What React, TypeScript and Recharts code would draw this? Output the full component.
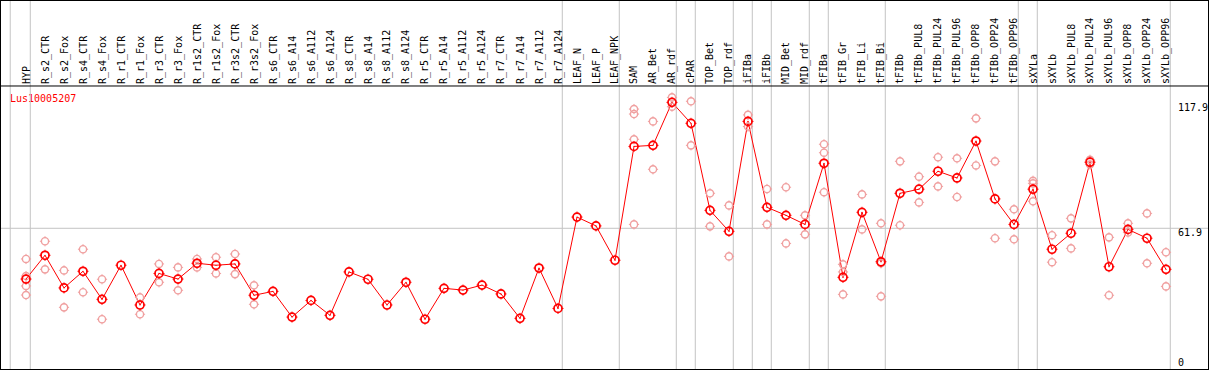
import React from "react";
import { ComposedChart, Line, XAxis, YAxis, ReferenceLine } from "recharts";

const CATEGORIES = [
  "HYP", "R_s2_CTR", "R_s2_Fox", "R_s4_CTR", "R_s4_Fox", "R_r1_CTR", "R_r1_Fox", "R_r3_CTR", "R_r3_Fox",
  "R_r1s2_CTR", "R_r1s2_Fox", "R_r3s2_CTR", "R_r3s2_Fox", "R_s6_CTR", "R_s6_A14", "R_s6_A112", "R_s6_A124",
  "R_s8_CTR", "R_s8_A14", "R_s8_A112", "R_s8_A124", "R_r5_CTR", "R_r5_A14", "R_r5_A112", "R_r5_A124",
  "R_r7_CTR", "R_r7_A14", "R_r7_A112", "R_r7_A124", "LEAF_N", "LEAF_P", "LEAF_NPK", "SAM", "AR_Bet", "AR_rdf",
  "cPAR", "TOP_Bet", "TOP_rdf", "iFIBa", "iFIBb", "MID_Bet", "MID_rdf", "tFIBa", "tFIB_Gr", "tFIB_Li", "tFIB_Bi",
  "tFIBb", "tFIBb_PUL8", "tFIBb_PUL24", "tFIBb_PUL96", "tFIBb_OPP8", "tFIBb_OPP24", "tFIBb_OPP96",
  "sXYLa", "sXYLb", "sXYLb_PUL8", "sXYLb_PUL24", "sXYLb_PUL96", "sXYLb_OPP8", "sXYLb_OPP24", "sXYLb_OPP96",
];

const MEANS = [
  38.4, 49.4, 34.3, 42.0, 29.0, 44.8, 26.4, 41.0, 38.4,
  45.7, 44.8, 45.4, 30.9, 32.7, 20.8, 28.5, 21.6,
  41.7, 38.3, 26.4, 36.9, 19.8, 34.1, 33.3, 35.6,
  31.5, 20.2, 43.5, 24.8, 67.1, 63.0, 47.1, 99.8, 100.3, 120.2,
  110.5, 70.2, 60.5, 111.4, 71.6, 67.9, 63.7, 92.0, 39.2, 69.3, 46.4,
  78.1, 80.0, 88.3, 85.2, 102.3, 75.5, 63.7,
  80.0, 52.2, 59.6, 92.5, 44.1, 61.4, 57.3, 42.9,
];

const REPLICATES: number[][] = [
  [47.7, 39.8, 35.2, 31.0], [55.9, 42.9], [42.4, 25.3], [52.2, 32.3], [38.3, 19.8], [], [29.9, 22.1], [45.4, 36.9], [43.8, 33.2],
  [47.7, 43.8], [48.5, 41.0], [50.0, 40.7], [35.5, 26.7], [], [], [], [],
  [], [], [], [], [], [], [], [],
  [], [], [], [], [], [], [], [117.1, 114.8, 103.1, 63.7], [111.4, 89.2], [122.5, 118.2],
  [120.7, 100.3], [78.1, 62.8], [72.5, 48.9], [114.4, 109.0], [80.1, 63.7], [80.9, 54.9], [67.9, 59.1], [100.8, 96.9, 78.6], [45.2, 41.7, 31.3], [77.6, 61.4], [64.2, 45.7, 30.4],
  [92.9, 63.3], [85.8, 73.9], [94.8, 81.3], [94.3, 76.4], [112.8, 91.0], [92.9, 57.3], [70.7, 56.8],
  [83.9, 82.7, 74.4], [58.7, 46.2], [66.5, 52.6], [93.6, 91.4], [57.7, 30.9], [64.2, 60.0], [68.8, 45.7], [50.8, 35.0],
];

const GROUP_ENDS = [0, 28, 31, 34, 35, 37, 38, 39, 41, 42, 45, 52, 53, 60];
const Y_TICKS = [0, 61.9, 117.9];
const GENE = "Lus10005207";

// layout / styling
const W = 1207;
const H = 368;
const X_DOMAIN: [number, number] = [-1.31579, 62.21053];
const Y_DOMAIN: [number, number] = [-3.2407, 167.13];
const SEP_OFFSET = 0.226;
const LEFT_GUIDE = -0.83;
const HEADER_VALUE = 127.78;
const GRID = "#c4c4c4";
const RED = "#ff0000";
const PINK = "#f0a0a0";
const FONT = '"DejaVu Sans Mono", "Liberation Mono", monospace';

const MAX_REPS = 4;
const data = CATEGORIES.map((name, i) => {
  const row: Record<string, any> = { i, name, mean: MEANS[i] };
  for (let k = 0; k < MAX_REPS; k++) {
    row["r" + k] = REPLICATES[i][k] ?? null;
  }
  return row;
});

const crossTicks = (cx: number, cy: number, r: number, color: string, w: number) => (
  <path
    d={`M${cx} ${cy - r - 1.5}V${cy - r + 0.5}M${cx} ${cy + r - 0.5}V${cy + r + 1.5}M${cx - r - 1.5} ${cy}H${cx - r + 0.5}M${cx + r - 0.5} ${cy}H${cx + r + 1.5}`}
    stroke={color}
    strokeWidth={w}
    fill="none"
  />
);

const repDot = (props: any) => {
  const { cx, cy, value, index, dataKey } = props;
  const k = `${dataKey}-${index}`;
  if (value == null || cy == null || isNaN(cy)) return <g key={k} />;
  return (
    <g key={k}>
      <circle cx={cx} cy={cy} r={3.6} fill="none" stroke={PINK} strokeWidth={1.4} />
      {crossTicks(cx, cy, 3.6, PINK, 1)}
    </g>
  );
};

const meanDot = (props: any) => {
  const { cx, cy, index } = props;
  if (cy == null) return <g key={`m-${index}`} />;
  return (
    <g key={`m-${index}`}>
      <circle cx={cx} cy={cy} r={4} fill="none" stroke={RED} strokeWidth={1.7} />
      {crossTicks(cx, cy, 4, RED, 1)}
      <circle cx={cx} cy={cy} r={0.6} fill={RED} />
    </g>
  );
};

const CatTick = (props: any) => {
  const { x, payload } = props;
  const label = CATEGORIES[payload.value];
  if (label == null) return <g />;
  const by = 83;
  return (
    <text
      x={x}
      y={by}
      transform={`rotate(-90, ${x}, ${by})`}
      textAnchor="start"
      dy="0.35em"
      fontFamily={FONT}
      fontSize={10}
      fill="#000"
    >
      {label}
    </text>
  );
};

const YTick = (props: any) => {
  const { y, payload } = props;
  const v = payload.value;
  const shift = v === 0 || v === Y_TICKS[Y_TICKS.length - 1] ? 0 : 4.4;
  return (
    <text x={1177} y={y + shift} dy="0.35em" textAnchor="start" fontFamily={FONT} fontSize={10} fill="#000">
      {v}
    </text>
  );
};

export default function App() {
  return (
    <div
      style={{
        position: "absolute",
        left: 0,
        top: 0,
        width: W + 2,
        height: H + 2,
        boxSizing: "border-box",
        border: "1px solid #000",
        background: "#fff",
      }}
    >
      <ComposedChart width={W} height={H} data={data} margin={{ top: 0, right: 0, bottom: 0, left: 0 }}>
        <XAxis
          type="number"
          dataKey="i"
          domain={X_DOMAIN}
          allowDataOverflow
          orientation="top"
          mirror
          ticks={CATEGORIES.map((_, i) => i)}
          interval={0}
          tick={CatTick}
          axisLine={false}
          tickLine={false}
          height={30}
        />
        <YAxis
          type="number"
          domain={Y_DOMAIN}
          allowDataOverflow
          orientation="right"
          mirror
          ticks={Y_TICKS}
          interval={0}
          tick={YTick}
          axisLine={false}
          tickLine={false}
          width={30}
        />
        <ReferenceLine x={LEFT_GUIDE} stroke={GRID} strokeWidth={1} />
        {GROUP_ENDS.map((g) => (
          <ReferenceLine key={`sep-${g}`} x={g + SEP_OFFSET} stroke={GRID} strokeWidth={1} />
        ))}
        <ReferenceLine y={Y_TICKS[1]} stroke={GRID} strokeWidth={1} />
        <ReferenceLine y={HEADER_VALUE} stroke="#000" strokeWidth={1} />
        <text x={9} y={97} dy="0.35em" fontFamily={FONT} fontSize={10} fill={RED}>
          {GENE}
        </text>
        {Array.from({ length: MAX_REPS }, (_, k) => (
          <Line
            key={`rep-${k}`}
            dataKey={`r${k}`}
            stroke="none"
            dot={repDot}
            activeDot={false}
            isAnimationActive={false}
            connectNulls={false}
            legendType="none"
          />
        ))}
        <Line
          dataKey="mean"
          stroke={RED}
          strokeWidth={1}
          dot={meanDot}
          activeDot={false}
          isAnimationActive={false}
        />
      </ComposedChart>
    </div>
  );
}
